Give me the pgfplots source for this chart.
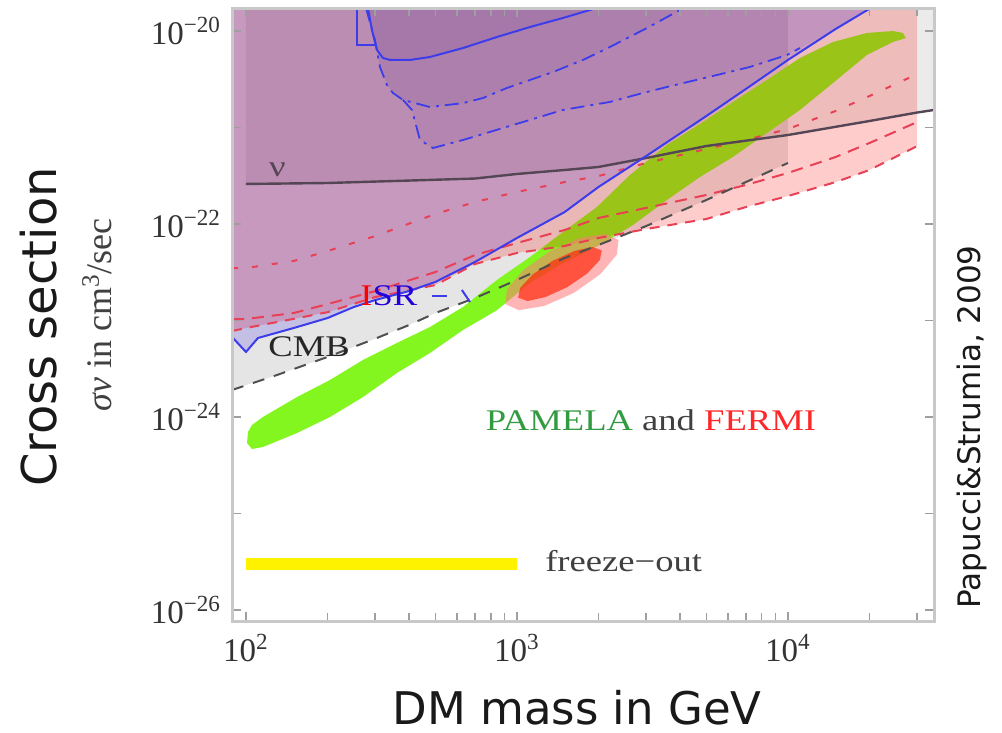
\documentclass[border=0pt]{standalone}
\usepackage{fontspec}
\setmainfont{Liberation Serif}
\newfontfamily\wideserif[FakeStretch=1.22]{Liberation Serif}
\newfontfamily\labelsans{DejaVu Sans}
\usepackage{pgfplots}
\pgfplotsset{compat=1.18}
\usetikzlibrary{calc}

\definecolor{bandgreen}{RGB}{130,246,30}
\definecolor{exclblue}{RGB}{24,0,230}
\definecolor{gcpurple}{RGB}{70,30,140}
\definecolor{lineblue}{RGB}{60,60,235}
\definecolor{linered}{RGB}{232,64,84}
\definecolor{nugray}{RGB}{85,70,85}
\definecolor{cmbgray}{RGB}{80,80,80}
\definecolor{framegray}{RGB}{200,200,200}
\definecolor{pamelagreen}{RGB}{50,155,65}
\definecolor{fermired}{RGB}{255,40,40}
\definecolor{fermipink}{RGB}{255,120,120}
\definecolor{fermicore}{RGB}{255,40,15}

\begin{document}
\begin{tikzpicture}
\begin{axis}[
  name=ax,
  scale only axis,
  width=351pt, height=306.5pt,
  xmode=log, ymode=log,
  xmin=88.8, xmax=34600,
  ymin=7.69e-27, ymax=1.73e-20,
  axis on top,
  axis line style={draw=framegray, line width=1.5pt},
  xtick={100,1000,10000},
  xticklabels={10\textsuperscript{2},10\textsuperscript{3},10\textsuperscript{4}},
  minor xtick={200,300,400,500,600,700,800,900,2000,3000,4000,5000,6000,7000,8000,9000,20000,30000},
  ytick={1e-26,1e-25,1e-24,1e-23,1e-22,1e-21,1e-20},
  yticklabels={{10\textsuperscript{−26}},{},{10\textsuperscript{−24}},{},{10\textsuperscript{−22}},{},{10\textsuperscript{−20}}},
  yminorticks=false,
  tick align=inside,
  major tick length=4.5pt, minor tick length=4pt,
  tick style={color=gray!75, line width=0.8pt},
  ticklabel style={font=\fontsize{16.5pt}{16.5pt}\selectfont, text=black!80},
  xticklabel style={yshift=-3pt},
  yticklabel style={xshift=-2pt},
]

% neutrino excluded region
\addplot[fill=black, fill opacity=0.08, draw=none] coordinates {
 (100,2.60e-22) (200,2.66e-22) (400,2.82e-22) (700,2.96e-22) (1000,3.30e-22)
 (1500,3.63e-22) (2000,3.90e-22) (3000,4.83e-22) (5000,6.43e-22) (10000,8.36e-22)
 (20000,1.168e-21) (30000,1.43e-21) (35000,1.52e-21) (35000,2e-20) (100,2e-20)
} -- cycle;

% CMB excluded region
\addplot[fill=black, fill opacity=0.1, draw=none] coordinates {
 (88,1.905e-24) (130,2.72e-24) (200,4.19e-24) (300,6.49e-24) (400,8.98e-24)
 (500,1.196e-23) (700,1.71e-23) (1000,2.63e-23) (1500,4.44e-23) (2000,6.06e-23)
 (3000,9.54e-23) (5000,1.773e-22) (7000,2.72e-22) (10000,4.29e-22)
 (10000,2e-20) (88,2e-20)
} -- cycle;

% PAMELA band
\addplot[fill=bandgreen, draw=none] coordinates {
 (101.7,6.99e-25) (105.2,8.26e-25) (115.5,1.00e-24) (154.3,1.61e-24) (204.2,2.42e-24)
 (270.2,3.90e-24) (360.7,5.85e-24) (477.5,8.56e-24) (632,1.38e-23) (843.9,2.63e-23)
 (1117,4.55e-23) (1478,8.26e-23) (1973,1.50e-22) (2612,3.22e-22) (3577,6.59e-22)
 (4735,1.087e-21) (6266,1.837e-21) (8366,3.106e-21) (11075,5.25e-21) (14656,7.69e-21)
 (19563,9.54e-21) (24404,1.00e-20) (26576,9.54e-21)
 (27255,8.46e-21) (24404,7.69e-21) (19563,5.64e-21) (14656,2.89e-21) (11075,1.52e-21)
 (8366,8.77e-22) (6266,4.95e-22) (4735,3.07e-22) (3577,1.773e-22) (2679,9.76e-23)
 (2025,6.06e-23) (1441,3.76e-23) (1117,2.45e-23) (843.9,1.28e-23) (632,7.97e-24)
 (477.5,4.61e-24) (360.7,2.86e-24) (270.2,1.61e-24) (204.2,1.00e-24) (154.3,6.83e-25)
 (115.5,4.89e-25) (105.2,4.66e-25) (100.9,5.38e-25)
} -- cycle;

% gamma-ray excluded region (above the lowest red curve)
\addplot[fill=red, fill opacity=0.2, draw=none] coordinates {
 (88,7.78e-24) (100,8.36e-24) (150,1.04e-23) (200,1.22e-23) (300,1.75e-23)
 (500,2.33e-23) (700,3.85e-23) (1000,5.01e-23) (1500,5.92e-23) (2000,7.16e-23)
 (3000,8.88e-23) (5000,1.127e-22) (7000,1.50e-22) (10000,1.95e-22) (15000,2.72e-22)
 (20000,3.63e-22) (30000,6.43e-22) (30000,2e-20) (88,2e-20)
} -- cycle;

% gamma-ray (blue) excluded region
\addplot[fill=exclblue, fill opacity=0.165, draw=none] coordinates {
 (88,6.75e-24) (100,4.72e-24) (110.7,6.59e-24) (150,8.36e-24) (200,1.061e-23)
 (250,1.38e-23) (300,1.63e-23) (400,2.02e-23) (500,2.51e-23) (700,4.04e-23)
 (1000,7.16e-23) (1500,1.331e-22) (2000,2.42e-22) (3000,5.07e-22) (5000,1.316e-21)
 (7000,2.51e-21) (10000,5.01e-21) (15000,1.049e-20) (20200,1.73e-20) (20600,2e-20) (88,2e-20)
} -- cycle;

% galactic-centre contours
\addplot[fill=gcpurple, fill opacity=0.07, draw=none] coordinates {
 (277.2,2e-20) (299.2,8.07e-21) (312.2,4.24e-21) (331.4,2.76e-21) (348.6,2.28e-21)
 (379.7,1.93e-21) (409.7,1.52e-21) (438.7,7.42e-22) (489.8,6.13e-22) (632,7.42e-22)
 (966.5,1.061e-21) (1478,1.52e-21) (2204,1.84e-21) (2917,2.28e-21) (3577,2.63e-21)
 (5470,3.50e-21) (7241,4.24e-21) (9915,5.64e-21) (11075,6.66e-21) (15000,1.049e-20)
 (20200,1.73e-20) (20600,2e-20)
} -- cycle;
\addplot[fill=gcpurple, fill opacity=0.05, draw=none] coordinates {
 (277.2,2e-20) (299.2,8.07e-21) (312.2,4.24e-21) (331.4,2.76e-21) (348.6,2.28e-21)
 (379.7,1.93e-21) (477.5,1.63e-21) (632,1.79e-21) (749.1,2.02e-21) (918.8,2.57e-21)
 (1358,3.76e-21) (1752,5.01e-21) (2204,6.83e-21) (3018,1.074e-20) (3996,1.651e-20)
 (4133,1.73e-20) (4250,2e-20)
} -- cycle;
\addplot[fill=gcpurple, fill opacity=0.07, draw=none] coordinates {
 (281.9,2e-20) (291.6,1.024e-20) (304.4,6.36e-21) (320.3,5.25e-21) (340,5.01e-21)
 (402.9,5.01e-21) (477.5,5.38e-21) (632,6.66e-21) (843.9,8.67e-21) (1117,1.100e-20)
 (1478,1.364e-20) (1859,1.651e-20) (1956,1.73e-20) (2000,2e-20)
} -- cycle;

% FERMI best-fit contours
\addplot[fill=fermipink, fill opacity=0.55, draw=none] coordinates {
 (2371,6.83e-23) (2337,4.81e-23) (2033,3.03e-23) (1621,1.93e-23) (1257,1.41e-23)
 (1016,1.28e-23) (906,1.48e-23) (919,2.11e-23) (1057,3.35e-23) (1326,5.24e-23)
 (1710,7.18e-23) (2114,7.90e-23)
} -- cycle;
\addplot[fill=fermicore, fill opacity=0.7, draw=none] coordinates {
 (2055,5.33e-23) (2023,4.24e-23) (1817,3.07e-23) (1535,2.22e-23) (1274,1.75e-23)
 (1093,1.59e-23) (1010,1.73e-23) (1027,2.17e-23) (1143,3.00e-23) (1353,4.15e-23)
 (1630,5.26e-23) (1899,5.78e-23)
} -- cycle;

% red gamma-ray bounds
\addplot[linered, line width=1pt, dash pattern=on 5pt off 4pt] coordinates {
 (88.8,7.78e-24) (100,8.36e-24) (150,1.04e-23) (200,1.22e-23) (300,1.75e-23)
 (500,2.33e-23) (700,3.85e-23) (1000,5.01e-23) (1500,5.92e-23) (2000,7.16e-23)
 (3000,8.88e-23) (5000,1.127e-22) (7000,1.50e-22) (10000,1.95e-22) (15000,2.72e-22)
 (20000,3.63e-22) (30000,6.43e-22)
};
\addplot[linered, line width=1pt, dash pattern=on 6pt off 4pt] coordinates {
 (88.8,1.036e-23) (100,1.036e-23) (150,1.196e-23) (200,1.48e-23) (300,2.02e-23)
 (500,3.18e-23) (700,4.77e-23) (1000,6.36e-23) (1500,8.67e-23) (2000,1.154e-22)
 (3000,1.47e-22) (5000,2.00e-22) (7000,2.54e-22) (10000,3.38e-22) (15000,4.95e-22)
 (20000,6.91e-22) (30000,1.140e-21)
};
\addplot[linered, line width=1pt, dash pattern=on 3pt off 7pt] coordinates {
 (88.8,3.50e-23) (100,3.50e-23) (150,4.14e-23) (200,5.25e-23) (300,7.51e-23)
 (500,1.269e-22) (700,1.69e-22) (1000,2.15e-22) (1500,2.72e-22) (2000,3.14e-22)
 (3000,4.29e-22) (5000,5.99e-22) (7000,7.42e-22) (10000,9.65e-22) (15000,1.483e-21)
 (20000,2.12e-21) (30000,3.58e-21)
};

% CMB bound
\addplot[cmbgray, line width=1pt, dash pattern=on 6pt off 5pt] coordinates {
 (88.8,1.905e-24) (130,2.72e-24) (200,4.19e-24) (300,6.49e-24) (400,8.98e-24)
 (500,1.196e-23) (700,1.71e-23) (1000,2.63e-23) (1500,4.44e-23) (2000,6.06e-23)
 (3000,9.54e-23) (5000,1.773e-22) (7000,2.72e-22) (10000,4.29e-22)
};

% neutrino bound
\addplot[nugray, line width=1.2pt] coordinates {
 (100,2.60e-22) (200,2.66e-22) (400,2.82e-22) (700,2.96e-22) (1000,3.30e-22)
 (1500,3.63e-22) (2000,3.90e-22) (3000,4.83e-22) (5000,6.43e-22) (10000,8.36e-22)
 (20000,1.168e-21) (30000,1.43e-21) (34600,1.52e-21)
};

% blue bounds
\addplot[lineblue, line width=1pt] coordinates {
 (88.8,6.75e-24) (100,4.72e-24) (110.7,6.59e-24) (150,8.36e-24) (200,1.061e-23)
 (250,1.38e-23) (300,1.63e-23) (400,2.02e-23) (500,2.51e-23) (700,4.04e-23)
 (1000,7.16e-23) (1500,1.331e-22) (2000,2.42e-22) (3000,5.07e-22) (5000,1.316e-21)
 (7000,2.51e-21) (10000,5.01e-21) (15000,1.049e-20) (20200,1.73e-20)
};
\addplot[lineblue, line width=1pt] coordinates {
 (281.9,1.73e-20) (291.6,1.024e-20) (304.4,6.36e-21) (320.3,5.25e-21) (340,5.01e-21)
 (402.9,5.01e-21) (477.5,5.38e-21) (632,6.66e-21) (843.9,8.67e-21) (1117,1.100e-20)
 (1478,1.364e-20) (1859,1.651e-20) (1956,1.73e-20)
};
\addplot[lineblue, line width=1pt] coordinates {
 (256.8,1.73e-20) (256.8,7.16e-21) (299.2,7.16e-21)
};
\addplot[lineblue, line width=0.9pt, dash pattern=on 7pt off 3pt on 1.5pt off 3pt] coordinates {
 (277.2,1.73e-20) (299.2,8.07e-21) (312.2,4.24e-21) (331.4,2.76e-21) (348.6,2.28e-21)
 (379.7,1.93e-21) (477.5,1.63e-21) (632,1.79e-21) (749.1,2.02e-21) (918.8,2.57e-21)
 (1358,3.76e-21) (1752,5.01e-21) (2204,6.83e-21) (3018,1.074e-20) (3996,1.651e-20)
 (4133,1.73e-20)
};
\addplot[lineblue, line width=0.9pt, dash pattern=on 7pt off 3pt on 1.5pt off 3pt] coordinates {
 (379.7,1.93e-21) (409.7,1.52e-21) (438.7,7.42e-22) (489.8,6.13e-22) (632,7.42e-22)
 (966.5,1.061e-21) (1478,1.52e-21) (2204,1.84e-21) (2917,2.28e-21) (3577,2.63e-21)
 (5470,3.50e-21) (7241,4.24e-21) (9915,5.64e-21) (11075,6.66e-21)
};
% ISR marker
\addplot[lineblue, line width=1pt] coordinates {(485.6,1.79e-23) (551.6,1.79e-23)};
\addplot[lineblue, line width=1pt] coordinates {(626.6,2.07e-23) (670.9,1.555e-23)};

% thermal freeze-out cross section
\addplot[yellow, line width=6pt] coordinates {(100,3e-26) (1000,3e-26)};

% labels inside the plot
\node[font=\wideserif\fontsize{15pt}{15pt}\selectfont, text=nugray, anchor=base west] at (114.6,3.07e-22) {ν};
\node[font=\wideserif\fontsize{15pt}{15pt}\selectfont, anchor=base west, inner sep=0pt] at (263.4,1.447e-23) {\textcolor{red}{I}\textcolor{blue!85!red}{SR}};
\node[font=\wideserif\fontsize{15pt}{15pt}\selectfont, text=black!85, anchor=base west, inner sep=0pt] at (120.6,4.19e-24) {CMB};
\node[font=\wideserif\fontsize{15pt}{15pt}\selectfont, anchor=base] at (3123,7.33e-25) {\textcolor{pamelagreen}{PAMELA} \textcolor{black!75}{and} \textcolor{fermired}{FERMI}};
\node[font=\wideserif\fontsize{15pt}{15pt}\selectfont, text=black!75, anchor=base west, inner sep=0pt] at (1268,2.48e-26) {freeze−out};
\end{axis}

% axis titles and credit
\node[rotate=90, font=\labelsans\fontsize{24pt}{24pt}\selectfont, text=black!90] at ($(ax.south west)+(-96.5pt,147pt)$) {Cross section};
\node[rotate=90, font=\fontsize{18pt}{18pt}\selectfont, text=black!75] at ($(ax.south west)+(-67.5pt,153pt)$) {\textit{σv} in cm\textsuperscript{3}/sec};
\node[font=\labelsans\fontsize{22.5pt}{22.5pt}\selectfont, text=black!90, anchor=base, inner sep=0pt] at ($(ax.south west)+(172.5pt,-52pt)$) {DM mass in GeV};
\node[rotate=90, font=\labelsans\fontsize{15.5pt}{15.5pt}\selectfont, text=black!90] at ($(ax.south west)+(370pt,97pt)$) {Papucci\&Strumia, 2009};

\pgfresetboundingbox
\path[use as bounding box] ($(ax.south west)+(-116pt,-56pt)$) rectangle ++(501pt,366.5pt);
\end{tikzpicture}
\end{document}
